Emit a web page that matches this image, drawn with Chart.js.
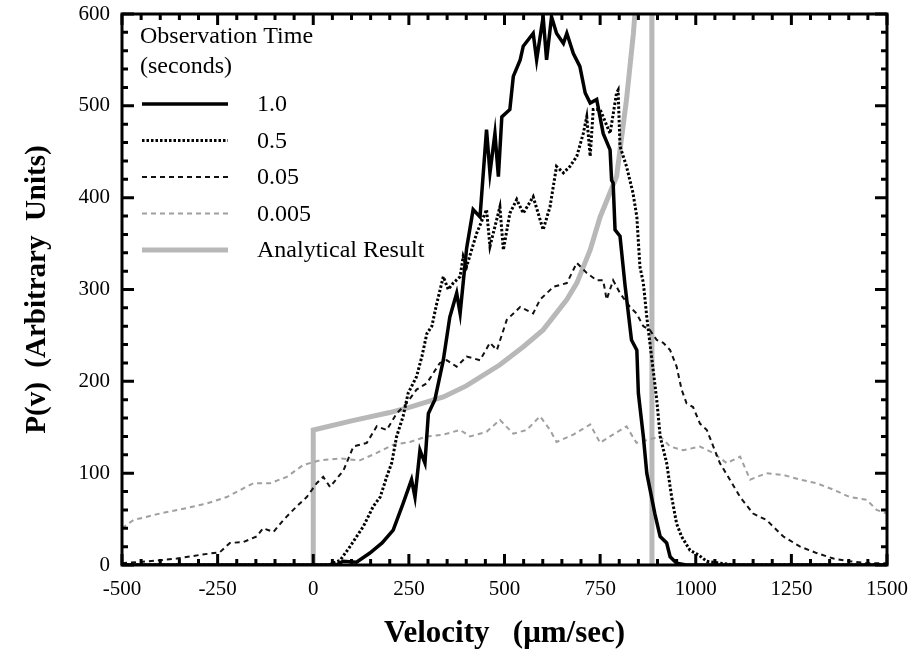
<!DOCTYPE html>
<html>
<head>
<meta charset="utf-8">
<script src="https://cdn.jsdelivr.net/npm/chart.js@4.4.1/dist/chart.umd.min.js"></script>
<style>
    html, body { margin: 0; padding: 0; background: #fff; }
    #wrap { width: 915px; height: 657px; }
</style>
</head>
<body>
<div id="wrap"><canvas id="velChart" width="915" height="657"></canvas></div>
<script>
// observation time 1.0 s
const v10 = [-500, 60, 78, 113, 148, 180, 209, 235, 257, 266, 279, 292, 301, 318, 340, 357, 375, 384, 401, 418, 436, 453, 462, 475, 484, 493, 514, 523, 541, 549, 575, 584, 601, 610, 623, 636, 654, 663, 680, 697, 711, 724, 741, 758, 776, 780, 784, 789, 802, 815, 832, 846, 850, 863, 872, 893, 907, 924, 933, 950, 975, 1500];
const p10 = [0, 0, 4, 3, 13, 24, 38, 67, 93, 74, 125, 111, 165, 180, 223, 270, 296, 274, 345, 387, 379, 474, 427, 470, 423, 488, 496, 532, 550, 565, 579, 550, 597, 550, 597, 579, 568, 579, 557, 543, 514, 503, 507, 470, 452, 419, 416, 365, 358, 305, 245, 234, 187, 140, 100, 56, 31, 24, 9, 2, 0, 0];

// observation time 0.5 s
const v05 = [-500, 40, 70, 96, 131, 157, 175, 192, 205, 218, 235, 248, 270, 284, 297, 310, 323, 340, 353, 366, 384, 392, 401, 427, 453, 462, 488, 497, 514, 532, 549, 575, 601, 619, 636, 654, 671, 689, 706, 715, 724, 732, 750, 776, 793, 797, 802, 819, 836, 846, 854, 863, 872, 898, 907, 924, 937, 950, 963, 985, 1007, 1029, 1064, 1100, 1500];
const p05 = [0, 0, 5, 20, 42, 64, 74, 96, 111, 140, 162, 187, 205, 227, 252, 260, 285, 314, 300, 307, 314, 336, 325, 361, 387, 347, 390, 343, 383, 398, 383, 401, 365, 390, 434, 427, 434, 445, 470, 488, 445, 496, 496, 470, 514, 517, 456, 434, 405, 379, 325, 307, 270, 180, 140, 111, 74, 45, 31, 16, 11, 4, 2, 0, 0];

// observation time 0.05 s
const v005 = [-500, -430, -357, -296, -244, -218, -183, -148, -131, -104, -78, -43, -17, 9, 26, 44, 79, 105, 140, 166, 192, 218, 244, 270, 297, 331, 349, 375, 401, 436, 462, 480, 506, 541, 575, 593, 628, 663, 689, 715, 741, 758, 767, 784, 802, 828, 845, 863, 880, 898, 915, 933, 950, 963, 976, 993, 1011, 1029, 1046, 1063, 1089, 1116, 1150, 1185, 1229, 1273, 1316, 1360, 1403, 1446, 1500];
const p005 = [2, 4, 7, 11, 14, 24, 25, 31, 40, 36, 49, 64, 74, 89, 96, 85, 103, 129, 133, 151, 147, 165, 176, 191, 198, 220, 223, 216, 227, 223, 242, 234, 267, 281, 274, 289, 303, 307, 329, 318, 310, 310, 289, 310, 296, 281, 274, 260, 256, 245, 242, 234, 216, 191, 176, 172, 154, 147, 129, 111, 93, 74, 56, 49, 31, 20, 13, 7, 4, 2, 2];

// observation time 0.005 s
const v0005 = [-500, -470, -401, -331, -279, -226, -157, -113, -69, -26, 18, 70, 122, 166, 209, 253, 297, 340, 384, 410, 453, 488, 523, 558, 593, 619, 636, 680, 724, 750, 776, 819, 845, 872, 907, 933, 967, 1011, 1046, 1081, 1116, 1142, 1185, 1229, 1273, 1316, 1360, 1403, 1447, 1473, 1500];
const p0005 = [40, 49, 56, 62, 67, 74, 89, 89, 96, 109, 114, 116, 114, 122, 131, 134, 140, 142, 147, 140, 145, 158, 143, 147, 162, 147, 134, 142, 153, 133, 140, 151, 133, 136, 140, 129, 125, 129, 122, 111, 118, 93, 100, 98, 93, 89, 82, 74, 71, 60, 56];

// analytical result
const vAna = [0, 0, 100, 200, 253, 340, 400, 488, 550, 601, 663, 689, 724, 750, 793, 819, 837, 850, 870, 884.5, 885.5];
const pAna = [0, 147, 157, 166, 172, 183, 195, 218, 238, 256, 289, 307, 343, 379, 423, 507, 579, 650, 900, 2500, 0];

const xTicks = [-500, -250, 0, 250, 500, 750, 1000, 1250, 1500];
const yTicks = [0, 100, 200, 300, 400, 500, 600];

const legendHeader = ['Observation Time', '(seconds)'];
const seriesLabels = ['1.0', '0.5', '0.05', '0.005', 'Analytical Result'];

const SERIF = '"Liberation Serif", "DejaVu Serif", serif';

function pts(xs, ys) {
    return xs.map((x, i) => ({ x: x, y: ys[i] }));
}

// inward ticks on all four sides plus the frame
const frameTicks = {
    id: 'frameTicks',
    afterDatasetsDraw(chart) {
        const { ctx, chartArea: a, scales } = chart;
        ctx.save();
        ctx.strokeStyle = '#000';
        ctx.lineWidth = 3;
        ctx.lineCap = 'butt';
        ctx.beginPath();
        for (let v = -500; v <= 1500; v += 50) {
            const px = scales.x.getPixelForValue(v);
            const len = (v % 250 === 0) ? 11 : 6;
            ctx.moveTo(px, a.bottom); ctx.lineTo(px, a.bottom - len);
            ctx.moveTo(px, a.top); ctx.lineTo(px, a.top + len);
        }
        for (let v = 0; v <= 600; v += 20) {
            const py = scales.y.getPixelForValue(v);
            const len = (v % 100 === 0) ? 12 : 6;
            ctx.moveTo(a.left, py); ctx.lineTo(a.left + len, py);
            ctx.moveTo(a.right, py); ctx.lineTo(a.right - len, py);
        }
        ctx.stroke();
        ctx.strokeRect(a.left, a.top, a.right - a.left, a.bottom - a.top);
        ctx.restore();
    }
};

// legend drawn inside the plot, upper left
const innerLegend = {
    id: 'innerLegend',
    afterDraw(chart) {
        const ctx = chart.ctx;
        ctx.save();
        ctx.fillStyle = '#000';
        ctx.font = '24px ' + SERIF;
        ctx.textBaseline = 'middle';
        ctx.textAlign = 'left';
        ctx.fillText(legendHeader[0], 140, 37);
        ctx.fillText(legendHeader[1], 140, 67);
        chart.data.datasets.forEach((ds, i) => {
            const y = 104 + i * 36.5;
            ctx.beginPath();
            ctx.strokeStyle = ds.borderColor;
            ctx.lineWidth = ds.borderWidth;
            ctx.setLineDash(ds.borderDash || []);
            ctx.moveTo(142, y);
            ctx.lineTo(228, y);
            ctx.stroke();
            ctx.setLineDash([]);
            ctx.fillStyle = '#000';
            ctx.fillText(ds.label, 257, y + 1);
        });
        ctx.restore();
    }
};

const ctx = document.getElementById('velChart').getContext('2d');

new Chart(ctx, {
    type: 'line',
    data: {
        datasets: [
            {
                label: seriesLabels[0],
                data: pts(v10, p10),
                borderColor: '#000',
                borderWidth: 3.5
            },
            {
                label: seriesLabels[1],
                data: pts(v05, p05),
                borderColor: '#000',
                borderWidth: 3,
                borderDash: [2.5, 2]
            },
            {
                label: seriesLabels[2],
                data: pts(v005, p005),
                borderColor: '#111',
                borderWidth: 2,
                borderDash: [5, 4]
            },
            {
                label: seriesLabels[3],
                data: pts(v0005, p0005),
                borderColor: '#a0a0a0',
                borderWidth: 2,
                borderDash: [5, 4]
            },
            {
                label: seriesLabels[4],
                data: pts(vAna, pAna),
                borderColor: '#b8b8b8',
                borderWidth: 5
            }
        ]
    },
    options: {
        responsive: false,
        animation: false,
        devicePixelRatio: 1,
        layout: { padding: { top: 14, right: 28, left: 0, bottom: 0 } },
        elements: {
            point: { radius: 0 },
            line: { tension: 0, fill: false }
        },
        plugins: {
            legend: { display: false },
            tooltip: { enabled: false }
        },
        scales: {
            x: {
                type: 'linear',
                min: -500,
                max: 1500,
                afterFit: s => { s.height = 92; s.paddingLeft = 0; s.paddingRight = 0; },
                afterBuildTicks: s => { s.ticks = xTicks.map(v => ({ value: v })); },
                grid: { display: false, drawTicks: false },
                border: { display: false },
                ticks: {
                    color: '#000',
                    padding: 12,
                    maxRotation: 0,
                    callback: v => String(v),
                    font: { family: SERIF, size: 21 }
                },
                title: {
                    display: true,
                    text: 'Velocity   (\u03bcm/sec)',
                    color: '#000',
                    padding: { top: 4, bottom: 4 },
                    font: { family: SERIF, size: 31, weight: 'bold' }
                }
            },
            y: {
                type: 'linear',
                min: 0,
                max: 600,
                afterFit: s => { s.width = 122; s.paddingTop = 0; s.paddingBottom = 0; },
                afterBuildTicks: s => { s.ticks = yTicks.map(v => ({ value: v })); },
                grid: { display: false, drawTicks: false },
                border: { display: false },
                ticks: {
                    color: '#000',
                    padding: 12,
                    callback: v => String(v),
                    font: { family: SERIF, size: 21 }
                },
                title: {
                    display: true,
                    text: 'P(v)  (Arbitrary  Units)',
                    color: '#000',
                    padding: { top: 20, bottom: 0 },
                    font: { family: SERIF, size: 29, weight: 'bold' }
                }
            }
        }
    },
    plugins: [frameTicks, innerLegend]
});
</script>
</body>
</html>
